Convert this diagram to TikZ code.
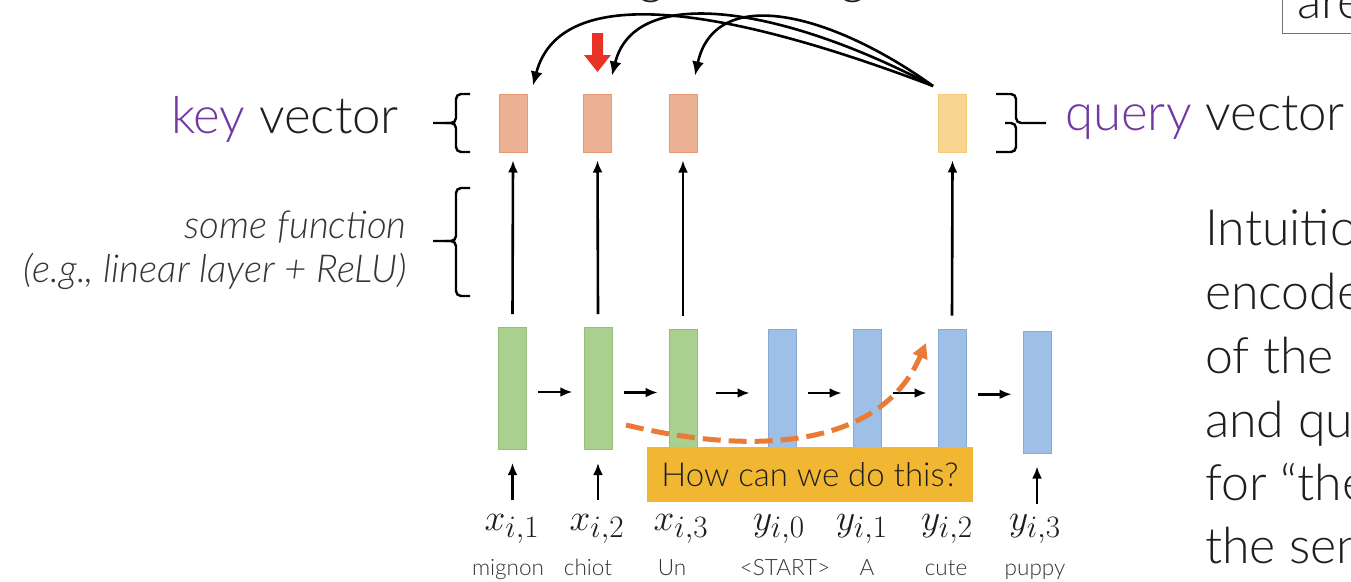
\documentclass[tikz,border=0pt]{standalone}
\usepackage{fontspec}
\IfFontExistsTF{Lato Light}{\setmainfont{Lato Light}}{%
  \IfFontExistsTF{Open Sans Light}{\setmainfont{Open Sans Light}}{\setmainfont{Open Sans}}}
\usetikzlibrary{arrows.meta,calc}
\definecolor{keyfill}{HTML}{EDB193}
\definecolor{keydraw}{HTML}{E39A72}
\definecolor{qfill}{HTML}{F8D590}
\definecolor{qdraw}{HTML}{F3CB78}
\definecolor{gfill}{HTML}{AAD090}
\definecolor{gdraw}{HTML}{93BF78}
\definecolor{bfill}{HTML}{9EC0E6}
\definecolor{bdraw}{HTML}{86AAD8}
\definecolor{purp}{HTML}{7038A0}
\definecolor{ybox}{HTML}{F2B732}
\definecolor{dashor}{HTML}{E97B36}
\definecolor{redarr}{HTML}{E83228}
\definecolor{txt}{HTML}{1E1E1E}
\newcommand{\mlbl}[1]{\scalebox{1.5}{$#1$}}
\begin{document}
\begin{tikzpicture}[x=1pt,y=-1pt,
  vbox/.style={draw, line width=1pt, minimum width=28pt, inner sep=0pt},
  keybox/.style={vbox, fill=keyfill, draw=keydraw, minimum height=58pt},
  qbox/.style={vbox, fill=qfill, draw=qdraw, minimum height=58pt},
  encbox/.style={vbox, fill=gfill, draw=gdraw, minimum height=122pt},
  decbox/.style={vbox, fill=bfill, draw=bdraw, minimum height=122pt},
  arr/.style={line width=2.6pt, -{Latex[length=12pt,width=10pt]}},
  curvarr/.style={line width=2.6pt, -{Latex[length=14pt,width=12pt]}},
  brc/.style={line width=2.4pt, rounded corners=5pt},
  bigtext/.style={font=\fontsize{51}{60}\selectfont, text=txt, inner sep=0pt},
  ittext/.style={font=\fontsize{38.5}{44}\selectfont\itshape, text=txt!90, inner sep=0pt},
  rtext/.style={font=\fontsize{50}{60}\selectfont, text=txt, inner sep=0pt, anchor=base west},
  mathlbl/.style={font=\fontsize{24.88}{30}\selectfont, text=txt, inner sep=0pt, anchor=base},
  wordlbl/.style={font=\fontsize{22.5}{26}\selectfont, text=txt!90, inner sep=0pt, anchor=base}
]
\useasboundingbox (0,0) rectangle (1351,581);
\fill[white] (0,0) rectangle (1351,581);

% key and query boxes
\node[keybox] (k1) at (513,123) {};
\node[keybox] (k2) at (597.5,123) {};
\node[keybox] (k3) at (683,123) {};
\node[qbox] (q) at (952.5,123) {};

% encoder / decoder boxes
\node[encbox] (g1) at (512.5,388.5) {};
\node[encbox] (g2) at (598,388.5) {};
\node[encbox, minimum height=121pt] (g3) at (683,389.5) {};
\node[decbox, minimum height=121pt] (b1) at (782,389.5) {};
\node[decbox, minimum height=121pt] (b2) at (867,389.5) {};
\node[decbox, minimum height=121pt] (b3) at (952,389.5) {};
\node[decbox] (b4) at (1037,392) {};

% vertical arrows to key/query
\foreach \a/\b in {g1/k1,g2/k2,g3/k3,b3/q}
  \draw[arr] ([yshift=13pt]\a.north) -- ([yshift=-8pt]\b.south);

% horizontal recurrent arrows
\foreach \a/\b in {g1/g2,g2/g3,g3/b1,b1/b2,b2/b3,b3/b4}
  \draw[arr] ($($(\a.east)!0.5!(\b.west)$)+(-17,3.5)$) -- ($($(\a.east)!0.5!(\b.west)$)+(17,3.5)$);

% labels under boxes
\node[mathlbl] (x1) at (512,530) {\mlbl{x_{i,1}}};
\node[mathlbl] (x2) at (597,530) {\mlbl{x_{i,2}}};
\node[mathlbl] (x3) at (681,530) {\mlbl{x_{i,3}}};
\node[mathlbl] (y0) at (779,530) {\mlbl{y_{i,0}}};
\node[mathlbl] (y1) at (862,530) {\mlbl{y_{i,1}}};
\node[mathlbl] (y2) at (947,530) {\mlbl{y_{i,2}}};
\node[mathlbl] (y3) at (1035,530) {\mlbl{y_{i,3}}};

\node[wordlbl] (w1) at (508,575) {mignon};
\node[wordlbl] (w2) at (588,575) {chiot};
\node[wordlbl] (w3) at (672,575) {Un};
\node[wordlbl] (w4) at (785,575) {<START>};
\node[wordlbl] (w5) at (867,575) {A};
\node[wordlbl] (w6) at (946,575) {cute};
\node[wordlbl] (w7) at (1035,575) {puppy};

% input arrows
\foreach \a in {g1,g2,g3,b1,b2,b3,b4}
  \draw[arr] ([yshift=-50pt]\a.south) -- ([yshift=-13pt]\a.south);

% dashed orange curve
\coordinate (ds) at (626,425);
\coordinate (de) at (926,343);
\draw[dashor, line width=5pt, dash pattern=on 18pt off 8pt,
      -{Triangle[length=15pt,width=15pt]}]
  (ds) .. controls (750,455) and (880,450) .. (de);

% question box
\node[fill=ybox, minimum width=326pt, minimum height=55pt, inner sep=0pt,
      font=\fontsize{33}{38}\selectfont, text=txt] (how) at (810,474.5) {How can we do this?};

% curved attention arrows from query
\coordinate (qs) at (933,86);
\draw[curvarr] (qs) .. controls (720,5) and (560,-18) .. ([xshift=20pt,yshift=8pt]k1.north);
\draw[curvarr] (qs) .. controls (785,8) and (635,-18) .. ([yshift=18pt]k2.north east);
\draw[curvarr] (qs) .. controls (830,12) and (715,-16) .. ([xshift=12pt,yshift=18pt]k3.north);

% red arrow
\fill[redarr] (592,33) -- (603,33) -- (603,55) -- (611,55) -- (597.5,72) -- (584,55) -- (592,55) -- cycle;

% braces
\draw[brc] (470,94) -- (456,94) -- (456,123) -- (433,123);
\draw[brc] (470,152) -- (456,152) -- (456,123) -- (445,123);
\draw[brc] (470,188) -- (456,188) -- (456,241) -- (433,241);
\draw[brc] (470,296) -- (456,296) -- (456,241) -- (445,241);
\draw[brc] (996,94) -- (1016,94) -- (1016,123) -- (1046,123);
\draw[brc] (996,152) -- (1016,152) -- (1016,123) -- (1005,123);

% left labels
\node[bigtext, anchor=base east] (keyl) at (399,133) {\textcolor{purp}{key} vector};
\node[bigtext, anchor=base west] (ql) at (1065,130) {\textcolor{purp}{query} vector};
\node[ittext, anchor=base east] (f1) at (407,238) {some function};
\node[ittext, anchor=base east] (f2) at (407,282) {(e.g., linear layer + ReLU)};

% right side text and cropped top items
\begin{scope}
\clip (0,0) rectangle (1351,581);
\node[rtext] (r1) at (1205,245) {Intuitio};
\node[rtext] (r2) at (1205,309) {encode};
\node[rtext] (r3) at (1205,373) {of the};
\node[rtext] (r4) at (1205,437) {and qu};
\node[rtext] (r5) at (1205,500) {for “the};
\node[rtext] (r6) at (1205,563) {the sen};
\draw[line width=1pt, draw=black!55] (1282,-5) -- (1282,33) -- (1360,33);
\node[rtext] (are) at (1297,18) {are};
\node[rtext] (tg1) at (638,-7) {g};
\node[rtext] (tg2) at (840,-7) {g};
\end{scope}
\end{tikzpicture}
\end{document}
